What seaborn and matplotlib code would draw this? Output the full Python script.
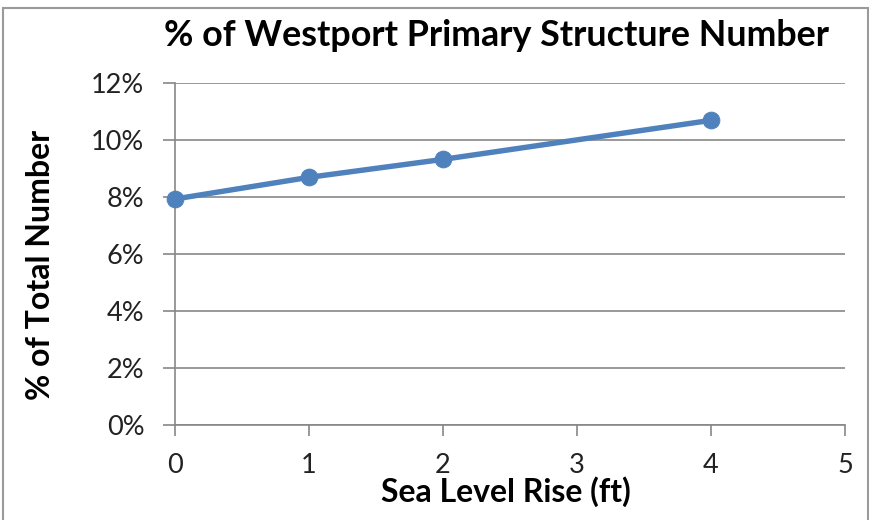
import matplotlib
matplotlib.use("Agg")
import matplotlib.pyplot as plt
from matplotlib.patches import Rectangle
from matplotlib.ticker import PercentFormatter, MultipleLocator
import seaborn as sns
import pandas as pd

sea_level_rise_ft = [0, 1, 2, 4]
pct_total_number = [0.0793, 0.0869, 0.0932, 0.1069]

title = "% of Westport Primary Structure Number"
x_label = "Sea Level Rise (ft)"
y_label = "% of Total Number"

sns.set_theme(style="white")
plt.rcParams["font.family"] = ["Lato", "DejaVu Sans"]

df = pd.DataFrame({"rise": sea_level_rise_ft, "pct": pct_total_number})

W, H = 870, 520
fig = plt.figure(figsize=(W / 100, H / 100), dpi=100)
ax = fig.add_axes([175 / W, 95 / H, 670 / W, 342 / H])

grid_c = "#878787"
sns.lineplot(data=df, x="rise", y="pct", ax=ax, color="#4F81BD",
             linewidth=3.9, marker="o", markersize=12,
             markeredgecolor="#4F81BD", zorder=5, clip_on=False)

ax.set_xlim(0, 5)
ax.set_ylim(0, 0.12)
ax.xaxis.set_major_locator(MultipleLocator(1))
ax.yaxis.set_major_locator(MultipleLocator(0.02))
ax.yaxis.set_major_formatter(PercentFormatter(1.0, decimals=0))

ax.grid(axis="y", color=grid_c, linewidth=1.2)
ax.grid(axis="x", visible=False)
for side in ("top", "right"):
    ax.spines[side].set_visible(False)
for side in ("left", "bottom"):
    ax.spines[side].set_color(grid_c)
    ax.spines[side].set_linewidth(1.2)

ax.tick_params(axis="y", which="major", left=True, direction="out",
               length=9, width=1.2, color=grid_c, labelsize=19.5,
               labelcolor="#222222", pad=13)
ax.tick_params(axis="x", which="major", bottom=True, direction="out",
               length=8, width=1.2, color=grid_c, labelsize=19.5,
               labelcolor="#222222", pad=12)

fig.text(497 / W, 1 - 36 / H, title, fontsize=25.8, fontweight="bold",
         color="black", ha="center", va="center")
ax.set_xlabel(x_label, fontsize=23, fontweight="bold", color="black")
ax.set_ylabel(y_label, fontsize=23, fontweight="bold", color="black")
ax.xaxis.set_label_coords((506 - 175) / 670, (425 - 476) / 342)
ax.yaxis.set_label_coords((55 - 175) / 670, (425 - 265) / 342)

fig.patches.append(Rectangle((3 / W, -0.01), 865 / W, (512 / H) + 0.01,
                             transform=fig.transFigure, fill=False,
                             edgecolor="#9a9a9a", linewidth=1.5))

fig.savefig("out.png", dpi=100)
